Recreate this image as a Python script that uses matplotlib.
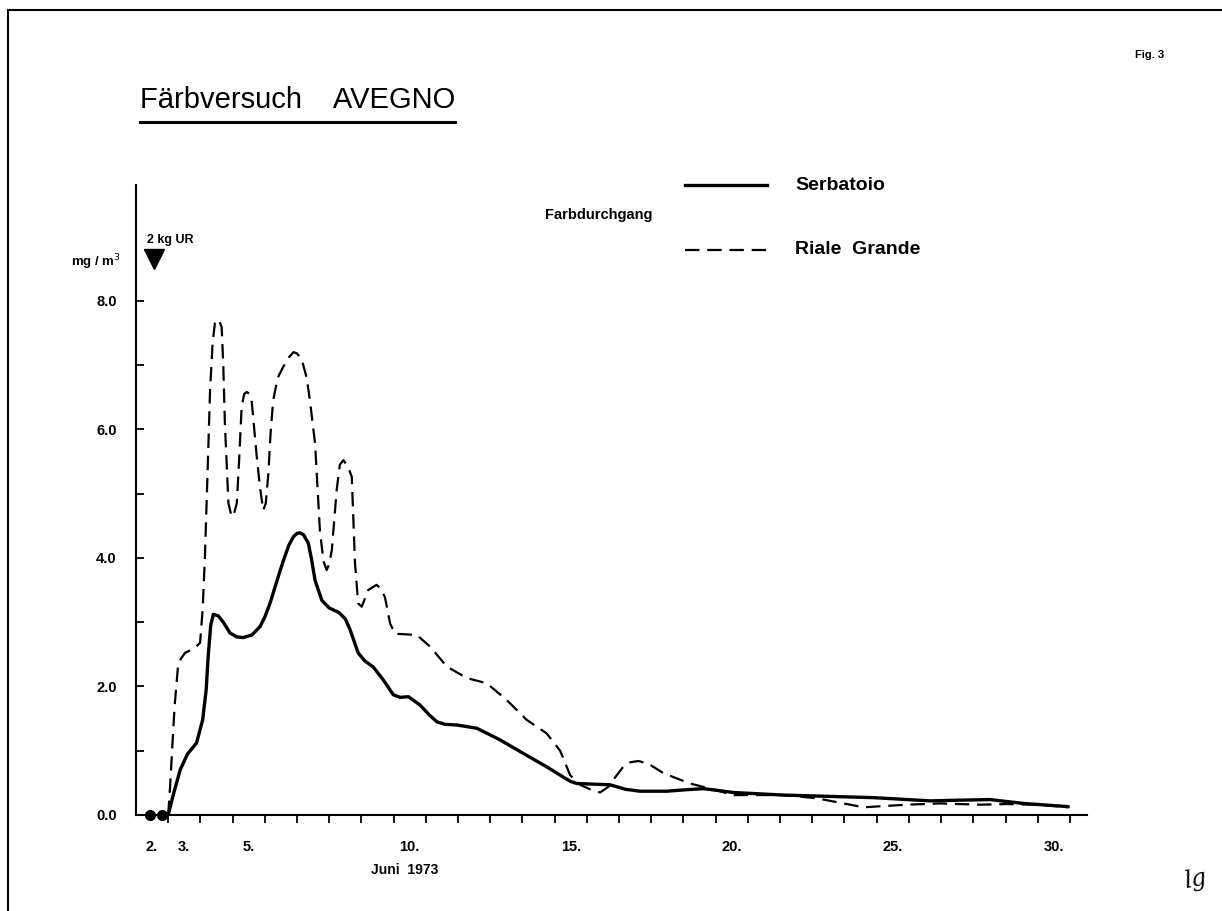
import matplotlib
matplotlib.use("Agg")
import matplotlib.pyplot as plt
from matplotlib.lines import Line2D

plt.rcParams['font.family'] = ['Liberation Sans', 'DejaVu Sans']

# --- data: dye concentration (mg/m3) over June 1973, x in days ---
serbatoio_day = [3.0, 3.15, 3.37, 3.6, 3.88, 4.07, 4.18, 4.24, 4.32, 4.40,
                 4.55, 4.71, 4.92, 5.13, 5.33, 5.6, 5.85, 6.0, 6.16, 6.35,
                 6.57, 6.75, 6.89, 7.0, 7.09, 7.2, 7.35, 7.45, 7.56, 7.77,
                 8.0, 8.3, 8.5, 8.65, 8.9, 9.1, 9.37, 9.68, 9.99, 10.2,
                 10.46, 10.82, 11.1, 11.34, 11.6, 11.96, 12.58, 13.3, 14.02, 14.75,
                 15.17, 15.5, 15.69, 16.2, 16.72, 17.2, 17.65, 18.48, 19.0, 19.62,
                 20.1, 20.55, 22.1, 24.2, 24.9, 26.66, 27.5, 28.52, 29.55, 30.95]
serbatoio_conc = [0.0, 0.3, 0.70, 0.95, 1.12, 1.48, 1.95, 2.46, 2.95, 3.12,
                  3.10, 3.0, 2.83, 2.77, 2.76, 2.80, 2.93, 3.08, 3.29, 3.6,
                  3.95, 4.2, 4.33, 4.38, 4.39, 4.36, 4.23, 3.98, 3.65, 3.34,
                  3.22, 3.15, 3.05, 2.88, 2.52, 2.40, 2.30, 2.10, 1.87, 1.83,
                  1.84, 1.71, 1.56, 1.45, 1.41, 1.40, 1.35, 1.17, 0.96, 0.75,
                  0.62, 0.52, 0.49, 0.48, 0.47, 0.40, 0.37, 0.37, 0.39, 0.41,
                  0.38, 0.35, 0.31, 0.28, 0.27, 0.22, 0.23, 0.24, 0.18, 0.13]

riale_day = [3.0, 3.06, 3.11, 3.2, 3.31, 3.42, 3.52, 3.83, 3.99, 4.07,
             4.14, 4.22, 4.30, 4.38, 4.45, 4.56, 4.66, 4.71, 4.76, 4.87,
             4.97, 5.05, 5.13, 5.2, 5.28, 5.36, 5.44, 5.52, 5.59, 5.75,
             5.85, 5.95, 6.03, 6.11, 6.18, 6.26, 6.4, 6.57, 6.75, 6.89,
             7.0, 7.15, 7.3, 7.40, 7.56, 7.71, 7.82, 7.92, 8.0, 8.08,
             8.23, 8.33, 8.44, 8.59, 8.70, 8.80, 8.90, 9.01, 9.21, 9.47,
             9.6, 9.73, 9.89, 10.04, 10.4, 10.72, 11.13, 11.65, 12.27, 12.89,
             13.51, 14.13, 14.75, 15.17, 15.48, 15.79, 16.1, 16.41, 16.67, 16.9,
             17.13, 17.35, 17.60, 17.9, 18.38, 19.20, 19.83, 20.55, 22.10, 23.14,
             23.97, 24.59, 25.93, 26.97, 28.21, 29.04, 30.07, 30.95]
riale_conc = [0.0, 0.45, 0.91, 1.7, 2.35, 2.45, 2.52, 2.6, 2.68, 3.2,
              4.02, 5.3, 6.61, 7.35, 7.65, 7.71, 7.59, 7.0, 6.09, 4.85,
              4.64, 4.7, 4.85, 5.5, 6.35, 6.55, 6.58, 6.55, 6.45, 5.57,
              5.1, 4.74, 4.85, 5.31, 5.95, 6.45, 6.8, 6.97, 7.12, 7.20,
              7.18, 7.08, 6.8, 6.45, 5.78, 4.43, 3.95, 3.81, 3.9, 4.12,
              5.05, 5.45, 5.52, 5.41, 5.26, 3.92, 3.29, 3.24, 3.50, 3.58,
              3.52, 3.39, 2.98, 2.82, 2.81, 2.80, 2.62, 2.31, 2.13, 2.05,
              1.79, 1.48, 1.27, 1.0, 0.62, 0.47, 0.40, 0.35, 0.44, 0.6,
              0.75, 0.82, 0.84, 0.8, 0.65, 0.49, 0.41, 0.31, 0.31, 0.26,
              0.18, 0.12, 0.16, 0.18, 0.16, 0.17, 0.16, 0.12]

# samples before arrival (zero readings)
zero_day = [2.43, 2.81]
zero_conc = [0.0, 0.0]

day_labels = ["2.", "3.", "5.", "10.", "15.", "20.", "25.", "30."]
day_label_pos = [2.5, 3.5, 5.5, 10.5, 15.5, 20.5, 25.5, 30.5]
y_ticks = [0, 1, 2, 3, 4, 5, 6, 7, 8]
y_tick_labels = ["0.0", "", "2.0", "", "4.0", "", "6.0", "", "8.0"]

fig = plt.figure(figsize=(12.22, 9.11), dpi=100)
ax = fig.add_axes([136 / 1222, 1 - 815 / 911, (1087 - 136) / 1222, (815 - 185) / 911])
ax.set_xlim(2, 31.53)
ax.set_ylim(0, 9.8)

ax.plot(serbatoio_day, serbatoio_conc, color='black', lw=2.4,
        solid_capstyle='round', solid_joinstyle='round')
ax.plot(riale_day, riale_conc, color='black', lw=1.6, dashes=(6.5, 3.5))
ax.plot(zero_day, zero_conc, 'o', color='black', ms=7, clip_on=False, zorder=5)

for s in ('top', 'right'):
    ax.spines[s].set_visible(False)
for s in ('left', 'bottom'):
    ax.spines[s].set_linewidth(1.5)

# y axis: ticks every 1.0, labels every 2.0
ax.set_yticks(y_ticks)
ax.set_yticklabels(y_tick_labels)
ax.tick_params(axis='y', which='major', direction='in', length=6, width=1.3,
               pad=14, labelsize=10.5)
for lab in ax.get_yticklabels():
    lab.set_fontweight('bold')

# x axis: ticks at day boundaries, labels centred in each day
ax.set_xticks(range(3, 32))
ax.set_xticklabels([])
ax.tick_params(axis='x', which='major', direction='out', length=6, width=1.3)
ax.set_xticks(day_label_pos, minor=True)
ax.set_xticklabels(day_labels, minor=True)
ax.tick_params(axis='x', which='minor', length=0, pad=18, labelsize=10.5)
for lab in ax.get_xticklabels(minor=True):
    lab.set_fontweight('bold')

ax.text(0.283, -0.087, "Juni  1973", transform=ax.transAxes, ha='center',
        va='center', fontsize=10, fontweight='bold')

# units and injection marker
fig.text(121 / 1222, 1 - 262 / 911, "mg / m$^3$", fontsize=9.5, fontweight='bold',
         ha='right', va='center')
fig.text(147 / 1222, 1 - 240 / 911, "2 kg UR", fontsize=9, fontweight='bold',
         ha='left', va='center')
fig.add_artist(Line2D([154 / 1222], [1 - 259 / 911], marker='v', color='black',
                      markersize=14, linestyle='none'))

# legend drawn by hand
fig.add_artist(Line2D([685 / 1222, 767 / 1222], [1 - 185 / 911] * 2,
                      color='black', lw=2.4))
fig.add_artist(Line2D([685 / 1222, 767 / 1222], [1 - 250 / 911] * 2,
                      color='black', lw=1.6, dashes=(6.5, 3.5)))
fig.text(795 / 1222, 1 - 185 / 911, "Serbatoio", fontsize=14, fontweight='bold',
         ha='left', va='center')
fig.text(795 / 1222, 1 - 250 / 911, "Riale  Grande", fontsize=14, fontweight='bold',
         ha='left', va='center')
fig.text(545 / 1222, 1 - 215 / 911, "Farbdurchgang", fontsize=10.5,
         fontweight='bold', ha='left', va='center')

# title with underline
fig.text(140 / 1222, 1 - 100 / 911, "Färbversuch    AVEGNO", fontsize=21,
         ha='left', va='center')
fig.add_artist(Line2D([140 / 1222, 455 / 1222], [1 - 122 / 911] * 2,
                      color='black', lw=2.2))

fig.text(1150 / 1222, 1 - 55 / 911, "Fig. 3", fontsize=8, fontweight='bold',
         ha='center', va='center')
fig.text(1195 / 1222, 1 - 880 / 911, "lg", fontsize=17, fontstyle='italic',
         family='DejaVu Serif', ha='center', va='center', rotation=10)

# page frame (top and left edges)
fig.add_artist(Line2D([8 / 1222, 1.0], [1 - 10 / 911] * 2, color='black', lw=1.5))
fig.add_artist(Line2D([8 / 1222, 8 / 1222], [0.0, 1 - 10 / 911], color='black', lw=1.5))

fig.savefig("out.png", dpi=100)
